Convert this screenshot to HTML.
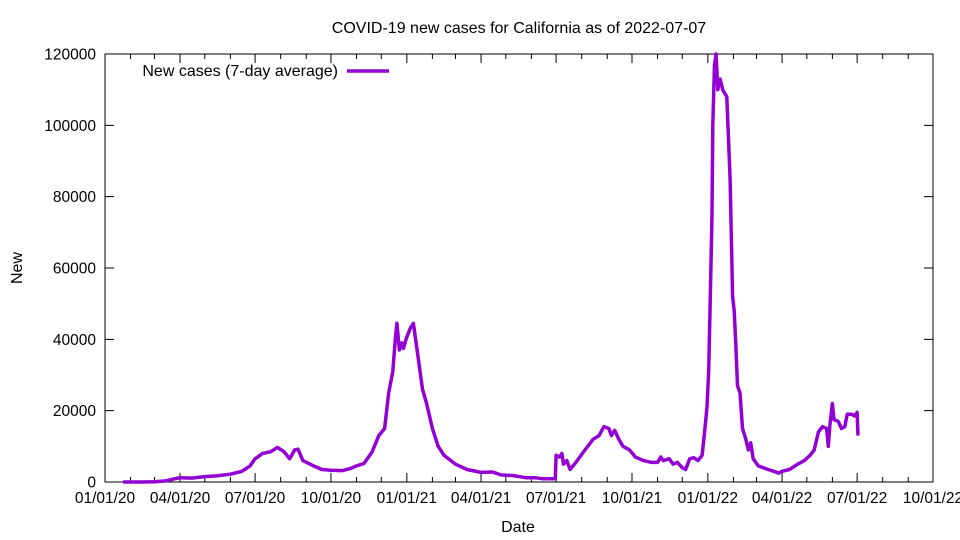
<!DOCTYPE html>
<html><head><meta charset="utf-8"><style>
body{margin:0;background:#fff;}
svg{display:block;font-family:"Liberation Sans",sans-serif;}
</style></head><body>
<svg id="chart" width="960" height="540">
<rect width="960" height="540" fill="#fff"/>
<text x="519" y="33" font-size="16" text-anchor="middle">COVID-19 new cases for California as of 2022-07-07</text>
<text x="518" y="532" font-size="16" text-anchor="middle">Date</text>
<text x="22" y="268" font-size="16" text-anchor="middle" transform="rotate(-90 22 268)">New</text>
<g id="axes"></g>
<g id="series"></g>
<g>
<text x="338" y="76" font-size="16" text-anchor="end">New cases (7-day average)</text>
<line x1="347" y1="71" x2="389" y2="71" stroke="#9400d3" stroke-width="3.5"/>
</g>
</svg>
<script>
const dates = ["2020-01-23","2020-02-15","2020-03-01","2020-03-15","2020-03-25","2020-04-01","2020-04-15","2020-05-01","2020-05-15","2020-06-01","2020-06-15","2020-06-25","2020-07-01","2020-07-10","2020-07-20","2020-07-28","2020-08-05","2020-08-12","2020-08-18","2020-08-22","2020-08-28","2020-09-10","2020-09-20","2020-10-01","2020-10-15","2020-10-25","2020-11-01","2020-11-10","2020-11-20","2020-11-28","2020-12-05","2020-12-10","2020-12-15","2020-12-18","2020-12-20","2020-12-23","2020-12-26","2020-12-28","2020-12-31","2021-01-05","2021-01-09","2021-01-14","2021-01-20","2021-01-25","2021-02-01","2021-02-08","2021-02-15","2021-03-01","2021-03-15","2021-04-01","2021-04-15","2021-04-25","2021-05-10","2021-05-25","2021-06-05","2021-06-15","2021-06-30","2021-07-01","2021-07-05","2021-07-08","2021-07-10","2021-07-14","2021-07-18","2021-07-25","2021-08-05","2021-08-15","2021-08-22","2021-08-28","2021-09-03","2021-09-06","2021-09-10","2021-09-15","2021-09-20","2021-09-28","2021-10-05","2021-10-15","2021-10-25","2021-11-01","2021-11-05","2021-11-08","2021-11-15","2021-11-20","2021-11-25","2021-12-01","2021-12-05","2021-12-10","2021-12-15","2021-12-20","2021-12-25","2021-12-28","2021-12-31","2022-01-02","2022-01-04","2022-01-06","2022-01-07","2022-01-09","2022-01-11","2022-01-13","2022-01-16","2022-01-19","2022-01-24","2022-01-28","2022-01-31","2022-02-02","2022-02-04","2022-02-06","2022-02-09","2022-02-12","2022-02-16","2022-02-19","2022-02-22","2022-02-25","2022-03-03","2022-03-15","2022-03-22","2022-03-28","2022-04-01","2022-04-10","2022-04-20","2022-04-28","2022-05-05","2022-05-10","2022-05-15","2022-05-20","2022-05-25","2022-05-27","2022-05-29","2022-06-01","2022-06-03","2022-06-08","2022-06-12","2022-06-16","2022-06-19","2022-06-24","2022-06-28","2022-07-01","2022-07-02"];
const cases = [0,0,50,300,900,1200,1100,1500,1700,2200,3000,4500,6500,8000,8500,9700,8500,6500,9000,9200,6000,4500,3500,3300,3200,3800,4500,5200,8500,13000,15000,25000,31000,40000,44500,37000,39000,37500,40000,43000,44500,36000,26000,22000,15000,10000,7500,5000,3500,2700,2800,2000,1800,1200,1200,900,900,7500,7000,8000,5000,6000,3500,5500,9000,12000,13000,15500,15000,13000,14500,12000,10000,9000,7000,6000,5500,5500,7000,6000,6500,5000,5500,4000,3500,6500,6800,6000,7500,14000,21000,31000,52000,75000,100000,117000,120000,110000,113000,110000,108000,85000,52000,48000,38000,27000,25000,15000,12000,9000,11000,6500,4500,3500,3000,2500,3000,3500,5000,6000,7500,9000,14000,15500,15000,10000,16000,22000,17500,17000,15000,15500,19000,19000,18500,19500,13000];
const yTicks = [0,20000,40000,60000,80000,100000,120000];
const xTickLabels = ["01/01/20","04/01/20","07/01/20","10/01/20","01/01/21","04/01/21","07/01/21","10/01/21","01/01/22","04/01/22","07/01/22","10/01/22"];

const L=105,R=933,T=54,B=482;
const t0=Date.UTC(2020,0,1), t1=Date.UTC(2022,9,1);
function dayMs(s){const p=s.split("-");return Date.UTC(+p[0],+p[1]-1,+p[2]);}
function xs(ms){return L+(ms-t0)/(t1-t0)*(R-L);}
function ys(v){return B-v/120000*(B-T);}
const NS="http://www.w3.org/2000/svg";
const ax=document.getElementById("axes");
function mk(tag,attrs,parent){const e=document.createElementNS(NS,tag);for(const k in attrs)e.setAttribute(k,attrs[k]);parent.appendChild(e);return e;}

const frame=mk("rect",{x:L,y:T,width:R-L,height:B-T,fill:"none",stroke:"#000","stroke-width":1},ax);



yTicks.forEach(v=>{
  const y=ys(v);
  const t1e=mk("path",{d:`M${L} ${y}h9M${R} ${y}h-9`,stroke:"#000","stroke-width":1},ax);
  
  
  const tx=mk("text",{x:L-9,y:y+5.5,"font-size":15.5,"text-anchor":"end"},ax);
  tx.textContent=String(v);
  
  
});

for(let m=0;m<=33;m++){
  const ms=Date.UTC(2020,m,1);
  const x=xs(ms);
  const major=m%3===0;
  const len=major?9:5;
  const tk=mk("path",{d:`M${x} ${B}v${-len}M${x} ${T}v${len}`,stroke:"#000","stroke-width":1},ax);
  
  
  if(major){
    const tx=mk("text",{x:x,y:B+21,"font-size":15.5,"text-anchor":"middle"},ax);
    tx.textContent=xTickLabels[m/3];
    
    
  }
}

const sg=document.getElementById("series");
let d="";
dates.forEach((s,i)=>{d+=(i?"L":"M")+xs(dayMs(s)).toFixed(1)+" "+ys(cases[i]).toFixed(1);});
const line=mk("path",{d:d,fill:"none",stroke:"#9400d3","stroke-width":3.5,"stroke-linejoin":"round"},sg);


</script>
</body></html>
